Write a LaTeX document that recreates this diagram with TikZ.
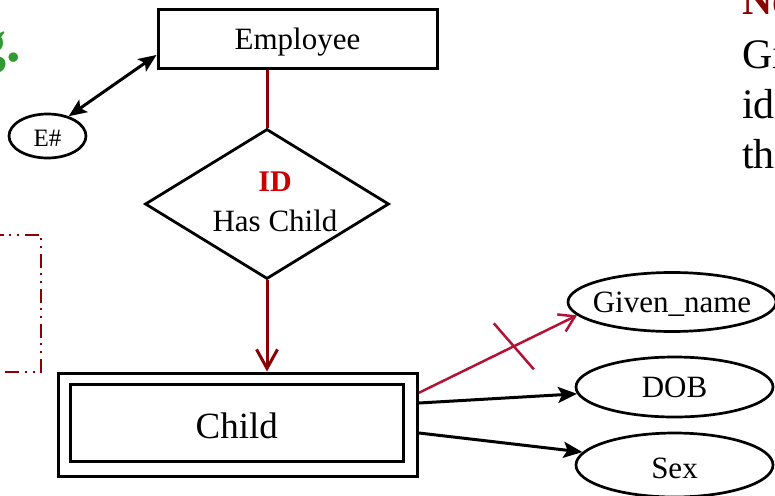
\documentclass[tikz,border=0pt]{standalone}
\usepackage{fontspec}
\setmainfont{Liberation Serif}
\usetikzlibrary{shapes.geometric,arrows.meta,calc}

\definecolor{erMaroon}{RGB}{139,0,0}
\definecolor{erRed}{RGB}{204,0,0}
\definecolor{erCrimson}{RGB}{178,18,52}
\definecolor{erGreen}{RGB}{51,153,51}

\tikzset{
  capcentered/.style={text height=#1, text depth=0pt},
  entitybox/.style={draw, line width=3pt, rectangle, inner sep=0pt},
  attrshape/.style={draw, line width=2.7pt, ellipse, inner sep=0pt},
  attrlabel/.style={inner sep=0pt, capcentered=20.5pt, font=\fontsize{31}{37}\selectfont},
  relshape/.style={draw, line width=2.8pt, diamond, inner sep=0pt,
                   minimum width=244pt, minimum height=150pt},
  blackarrow/.style={line width=3pt, -{Stealth[length=19pt,width=16pt,inset=4pt]}},
  idlink/.style={line width=3pt, draw=erMaroon},
  partialid/.style={line width=2.5pt, draw=erCrimson,
                    -{Straight Barb[length=15pt,width=19pt]}},
  sidetext/.style={anchor=base west, inner sep=0pt, font=\fontsize{42}{50}\selectfont},
}

\begin{document}
\begin{tikzpicture}[x=1pt,y=-1pt]
\useasboundingbox (0,0) rectangle (775,495);

% heading fragment at the left edge
\node[anchor=base west, inner sep=0pt, text=erGreen,
      font=\fontsize{58}{66}\selectfont\bfseries] (head) at (-22.5,61) {g.};

% notes column at the right edge
\node[sidetext, text=erMaroon, font=\fontsize{42}{50}\selectfont\bfseries] (n1) at (742,15) {No};
\node[sidetext] (n2) at (742,68) {Gi};
\node[sidetext] (n3) at (742,118) {ide};
\node[sidetext] (n4) at (742,168) {the};

% dash-dot frame on the left
\draw[draw=erMaroon, line width=1.8pt,
      dash pattern=on 14pt off 5pt on 2pt off 6pt on 2pt off 6pt]
  (-10,235) -- (41,235) -- (41,372) -- (-10,372);

% strong entity
\node[entitybox, capcentered=20.5pt, minimum width=279pt, minimum height=59pt,
      font=\fontsize{31}{37}\selectfont] (emp) at (297.5,39) {Employee};

% key attribute of Employee
\node[attrshape, minimum width=77pt, minimum height=44pt] (eid) at (47.5,136) {};
\node[attrlabel, capcentered=16.5pt, font=\fontsize{25}{30}\selectfont] (eidt) at ([yshift=-2.5pt]eid.center) {E\#};
\draw[line width=3pt, {Stealth[length=18pt,width=15pt,inset=4pt]}-{Stealth[length=18pt,width=15pt,inset=4pt]}]
  (eid.43) -- ([yshift=-16pt]emp.west);

% identifying relationship
\node[relshape] (hc) at (267,204) {};
\node[anchor=base, inner sep=0pt, text=erRed,
      font=\fontsize{30}{36}\selectfont\bfseries] (hcid) at (275,191.7) {ID};
\node[anchor=base, inner sep=0pt,
      font=\fontsize{31}{37}\selectfont] (hct) at (275,231.7) {Has Child};

% weak entity (double rectangle)
\node[entitybox, minimum width=359pt, minimum height=103.5pt] (child) at (238,424.75) {};
\node[entitybox, capcentered=30pt, minimum width=332.5pt, minimum height=77pt,
      font=\fontsize{37}{44}\selectfont] (childin) at (236.75,423) {Child};

% attributes of Child
\node[attrshape, minimum width=208pt, minimum height=59pt] (gn) at (672,302) {};
\node[attrlabel] (gnt) at (gn) {Given\_name};
\node[attrshape, minimum width=197pt, minimum height=60pt] (dob) at (674.5,387) {};
\node[attrlabel] (dobt) at (dob) {DOB};
\node[attrshape, minimum width=197pt, minimum height=64pt] (sex) at (674.5,465) {};
\node[attrlabel] (sext) at ([yshift=-3pt]sex.center) {Sex};

% identifying links
\draw[idlink] (hc.north |- emp.south) -- (hc.north);
\draw[idlink, -{Straight Barb[length=19pt,width=21pt]}]
  (hc.south) -- (hc.south |- child.north);

% partial identifier link with its cross mark
\coordinate (gs) at ([yshift=32pt]child.east);
\coordinate (ge) at (gn.188);
\draw[partialid] (gs) -- (ge);
\draw[draw=erCrimson, line width=2.5pt]
  ($(gs)!0.6!(ge)+(-20,-23)$) -- ($(gs)!0.6!(ge)+(20,23)$);

% plain attribute links
\draw[blackarrow] ([yshift=21.75pt]child.east) -- (dob.184);
\draw[blackarrow] ([yshift=-8.25pt]child.east) -- (sex.172.6);
\end{tikzpicture}
\end{document}
